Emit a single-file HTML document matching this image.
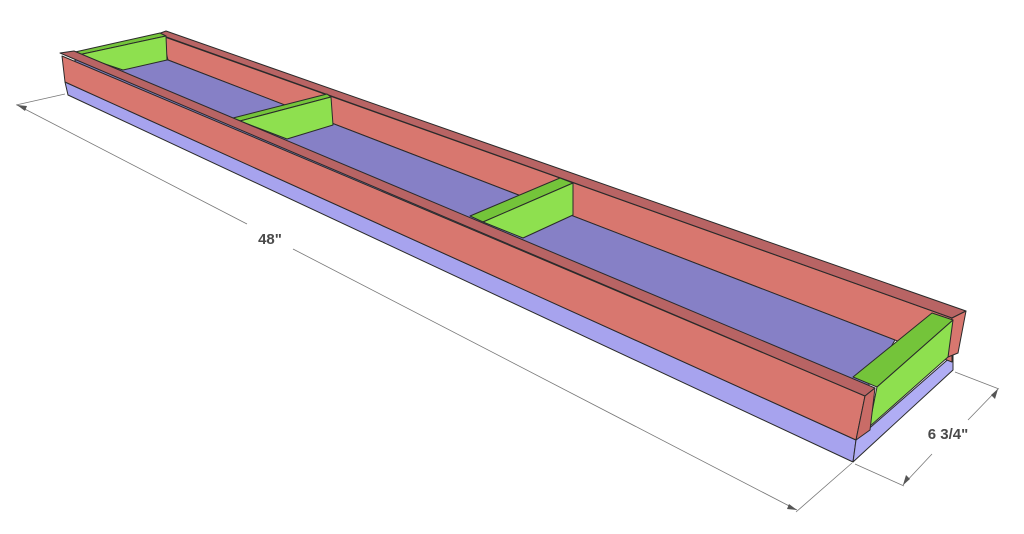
<!DOCTYPE html>
<html><head><meta charset="utf-8"><style>
html,body{margin:0;padding:0;background:#fff;}
svg{display:block;}
text{font-family:"Liberation Sans",sans-serif;font-weight:bold;fill:#4a4a4a;}
</style></head><body>
<svg width="1024" height="534" viewBox="0 0 1024 534" xmlns="http://www.w3.org/2000/svg">
<g stroke="#2a2a2a" stroke-width="1" stroke-linejoin="round">
<!-- blue base -->
<polygon points="65,82 856,440 853,462 68,95" fill="#a7a3ee"/>
<polygon points="856,440 953,355 953,370 853,462" fill="#b0adf4"/>
<!-- back board -->
<polygon points="162,36 952,318 952,362 168,60" fill="#d8776f"/>
<polygon points="158,34 166,31 966,311 952,318" fill="#b86464"/>
<polygon points="952,318 966,311 958,353 948,357" fill="#d8776f"/>
<!-- floor -->
<polygon points="75,60 168,60 895,340 860,400 75,85" fill="#8680c6"/>
<!-- left end green -->
<polygon points="75,52 160,33 166,36 78,55" fill="#74c43a"/>
<polygon points="78,55 166,36 167,60 123,70" fill="#8ee04f"/>
<!-- divider 2 -->
<polygon points="233,118 327,94 331,97 240,121" fill="#74c43a"/>
<polygon points="240,121 331,97 333,125 287,139" fill="#8ee04f"/>
<!-- divider 3 -->
<polygon points="470,216 560,178 573,183 483,222" fill="#74c43a"/>
<polygon points="483,222 573,183 573,215 523,238" fill="#8ee04f"/>
<!-- right end green -->
<polygon points="853,377 932,313 953,320 877,387" fill="#74c43a"/>
<polygon points="877,387 953,320 948,357 869,427" fill="#8ee04f"/>
<!-- front board -->
<polygon points="62,56 865,396 856,440 65,82" fill="#d8776f"/>
<polygon points="60,53 74,51 875,388 865,396" fill="#b86464"/>
<polygon points="865,396 875,388 870,430 856,440" fill="#c96c67"/>
</g>
<!-- dimensions -->
<g stroke="#777" stroke-width="0.8" fill="none">
<line x1="65" y1="94" x2="16" y2="105"/>
<line x1="852" y1="463" x2="796" y2="512"/>
<line x1="17" y1="105" x2="247" y2="224"/>
<line x1="293" y1="249" x2="797" y2="510"/>
<line x1="955" y1="372" x2="999" y2="389"/>
<line x1="855" y1="464" x2="904" y2="486"/>
<line x1="998" y1="389" x2="968" y2="420"/>
<line x1="932" y1="454" x2="903" y2="485"/>
</g>
<g fill="#555">
<polygon points="17,105 27,106 25,111"/>
<polygon points="797,510 787,509 789,504"/>
<polygon points="998,389 995,399 991,395"/>
<polygon points="903,485 906,475 910,479"/>
</g>
<text x="270" y="244" font-size="15" text-anchor="middle">48"</text>
<text x="948" y="439" font-size="15" text-anchor="middle">6 3/4"</text>
</svg>
</body></html>
